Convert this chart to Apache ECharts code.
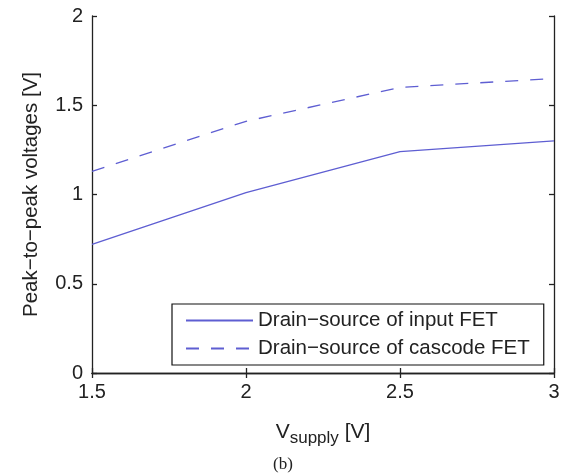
<!DOCTYPE html>
<html>
<head>
<meta charset="utf-8">
<script src="https://cdn.jsdelivr.net/npm/echarts@6/dist/echarts.min.js"></script>
<style>
html,body{margin:0;padding:0;background:#fff;}
#chart{width:566px;height:476px;}
</style>
</head>
<body>
<div id="chart"></div>
<script>
var vSupply = [1.5, 2, 2.5, 3];
var inputFET = [0.72, 1.01, 1.24, 1.30];
var cascodeFET = [1.13, 1.41, 1.60, 1.65];
var seriesNames = ['Drain\u2212source of input FET', 'Drain\u2212source of cascode FET'];
var yTitle = 'Peak\u2212to\u2212peak voltages [V]';
var caption = '(b)';

var FONT = '"Liberation Sans", Arial, Helvetica, sans-serif';
var AX = '#222';
var LINE = '#5e5ed2';

function pairs(xs, ys){ return xs.map(function(x,i){ return [x, ys[i]]; }); }

var chart = echarts.init(document.getElementById('chart'), null, {renderer:'canvas'});
chart.setOption({
  backgroundColor:'#fff',
  animation:false,
  grid:{left:92, right:12, top:16, bottom:103, containLabel:false},
  legend:{
    left:172, top:304,
    orient:'vertical',
    data:seriesNames,
    itemWidth:67, itemHeight:20, itemGap:7,
    padding:[6, 14, 6, 13],
    borderColor:'#111', borderWidth:1.2, backgroundColor:'#fff',
    itemStyle:{opacity:0},
    textStyle:{fontFamily:FONT, fontSize:20.5, color:'#222'},
    selectedMode:false
  },
  xAxis:[{
    type:'value', min:1.5, max:3, interval:0.5,
    axisLine:{lineStyle:{color:AX, width:1.3}},
    axisTick:{inside:true, length:5, lineStyle:{color:AX, width:1.3}},
    splitLine:{show:false},
    axisLabel:{fontFamily:FONT, fontSize:20, color:'#222', margin:9,
      formatter:function(v){ return String(v); }},
    name:'{v|V}{s|supply}{v| [V]}',
    nameLocation:'middle', nameGap:44,
    nameTextStyle:{rich:{
      v:{fontFamily:FONT, fontSize:21, color:'#222'},
      s:{fontFamily:FONT, fontSize:17, color:'#222', padding:[13,0,0,0]}
    }}
  },{
    type:'value', min:1.5, max:3, interval:0.5, position:'top',
    axisLine:{lineStyle:{color:AX, width:1.3}},
    axisTick:{inside:true, length:5, lineStyle:{color:AX, width:1.3}},
    axisLabel:{show:false}, splitLine:{show:false}
  }],
  yAxis:[{
    type:'value', min:0, max:2, interval:0.5,
    axisLine:{show:true, lineStyle:{color:AX, width:1.3}},
    axisTick:{show:true, inside:true, length:5, lineStyle:{color:AX, width:1.3}},
    splitLine:{show:false},
    axisLabel:{fontFamily:FONT, fontSize:20, color:'#222', margin:9,
      formatter:function(v){ return String(v); }},
    name:yTitle, nameLocation:'middle', nameGap:50, nameRotate:90,
    nameTextStyle:{fontFamily:FONT, fontSize:20.5, color:'#222'}
  },{
    type:'value', min:0, max:2, interval:0.5, position:'right',
    axisLine:{show:true, lineStyle:{color:AX, width:1.3}},
    axisTick:{show:true, inside:true, length:5, lineStyle:{color:AX, width:1.3}},
    axisLabel:{show:false}, splitLine:{show:false}
  }],
  series:[{
    name:seriesNames[0], type:'line', xAxisIndex:0, yAxisIndex:0,
    data:pairs(vSupply, inputFET), symbol:'none', showSymbol:false,
    lineStyle:{color:LINE, width:1.3, type:'solid'}, itemStyle:{color:LINE}
  },{
    name:seriesNames[1], type:'line', xAxisIndex:0, yAxisIndex:0,
    data:pairs(vSupply, cascodeFET), symbol:'none', showSymbol:false,
    lineStyle:{color:LINE, width:1.3, type:[13,12]}, itemStyle:{color:LINE}
  }],
  graphic:[{
    type:'text', left:'center', top:456,
    style:{text:caption, font:'17px "Liberation Serif", "Times New Roman", serif', fill:'#222'}
  }]
});
</script>
</body>
</html>
